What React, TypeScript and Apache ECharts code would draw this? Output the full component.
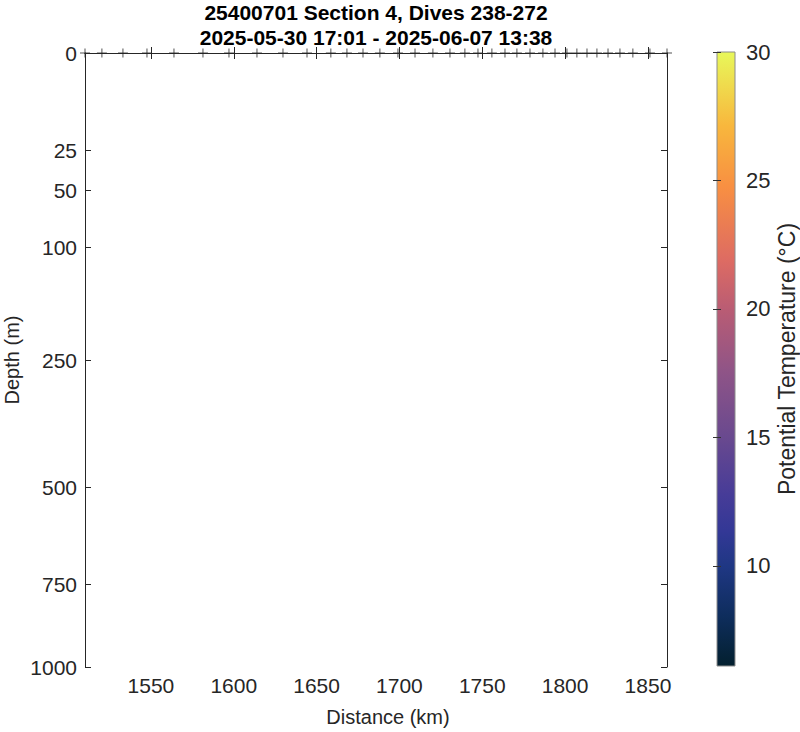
import React, { useEffect, useRef } from "react";
import * as echarts from "echarts";

// ---- data ----
const titleLine1 = "25400701 Section 4, Dives 238-272";
const titleLine2 = "2025-05-30 17:01 - 2025-06-07 13:38";
const diveDistances = [
  1510.2, 1520.4, 1533.1, 1547.6, 1563.9, 1581.4, 1597.1, 1614.0, 1629.7, 1644.2,
  1658.6, 1668.3, 1678.0, 1688.2, 1699.1, 1709.4, 1720.2, 1730.5, 1739.5, 1747.4,
  1755.8, 1763.7, 1770.9, 1778.8, 1786.6, 1793.9, 1801.1, 1807.1, 1813.2, 1819.2,
  1825.9, 1833.1, 1840.9, 1851.2, 1861.5,
];
const distanceTicks = [1550, 1600, 1650, 1700, 1750, 1800, 1850];
const depthTicks = [0, 25, 50, 100, 250, 500, 750, 1000];
const tempTicks = [10, 15, 20, 25, 30];
const distMin = 1510.2;
const distMax = 1861.5;
const depthMax = 1000;
const tempMin = 6.1;
const tempMax = 30;
// cmocean "thermal" approximation: [fraction, colour]
const thermalStops: [number, string][] = [
  [0.0, "#03202f"],
  [0.08, "#0e2d5c"],
  [0.163, "#1f3784"],
  [0.22, "#333896"],
  [0.28, "#473c98"],
  [0.372, "#69498f"],
  [0.48, "#8f5487"],
  [0.58, "#b95c74"],
  [0.66, "#dd6b63"],
  [0.78, "#f88f42"],
  [0.88, "#f8b73d"],
  [1.0, "#e8f85a"],
];

const FONT = "'Liberation Sans', Arial, Helvetica, sans-serif";
const AX = "#262626";

export default function App() {
  const ref = useRef<HTMLDivElement>(null);
  useEffect(() => {
    if (!ref.current) return;
    const chart = echarts.init(ref.current, null, { renderer: "svg" });
    const sq = (v: number) => Math.sqrt(v);
    const depthTickT = depthTicks.map(sq);
    const grad = new echarts.graphic.LinearGradient(
      0, 1, 0, 0,
      thermalStops.map(([o, c]) => ({ offset: o, color: c }))
    );
    const tickLabel = { color: AX, fontSize: 21, fontFamily: FONT };
    const nameStyle = { color: AX, fontSize: 20, fontFamily: FONT };
    chart.setOption({
      animation: false,
      backgroundColor: "#ffffff",
      textStyle: { fontFamily: FONT },
      graphic: [
        {
          type: "text", x: 376, y: 2,
          style: { text: titleLine1, fontSize: 21, fontWeight: "bold", fill: "#000", fontFamily: FONT, textAlign: "center" },
        },
        {
          type: "text", x: 376, y: 27,
          style: { text: titleLine2, fontSize: 21, fontWeight: "bold", fill: "#000", fontFamily: FONT, textAlign: "center" },
        },
      ],
      grid: [
        { left: 85, top: 53, width: 582, height: 614, show: false, containLabel: false, outerBoundsMode: "none" },
        { left: 717, top: 52, width: 18, height: 614, show: false, containLabel: false, outerBoundsMode: "none" },
      ],
      xAxis: [
        {
          type: "value", gridIndex: 0, position: "bottom", min: distMin, max: distMax,
          splitLine: { show: false },
          axisLine: { show: true, lineStyle: { color: AX, width: 1 } },
          axisTick: { show: true, inside: true, length: 6, customValues: distanceTicks, lineStyle: { color: AX } },
          axisLabel: { ...tickLabel, margin: 8, customValues: distanceTicks, formatter: (v: number) => String(Math.round(v)) },
          name: "Distance (km)", nameLocation: "middle", nameGap: 40,
          nameTextStyle: { ...nameStyle, padding: [0, 0, 0, 24] },
          nameMoveOverlap: false,
        },
        {
          type: "value", gridIndex: 0, position: "top", min: distMin, max: distMax,
          splitLine: { show: false },
          axisLine: { show: true, lineStyle: { color: AX, width: 1 } },
          axisTick: { show: true, inside: true, length: 6, customValues: distanceTicks, lineStyle: { color: AX } },
          axisLabel: { show: false },
        },
        {
          type: "value", gridIndex: 1, min: 0, max: 1, show: false,
        },
      ],
      yAxis: [
        {
          type: "value", gridIndex: 0, position: "left", inverse: true, min: 0, max: sq(depthMax),
          splitLine: { show: false },
          axisLine: { show: true, lineStyle: { color: AX, width: 1 } },
          axisTick: { show: true, inside: true, length: 6, customValues: depthTickT, lineStyle: { color: AX } },
          axisLabel: { ...tickLabel, margin: 8, customValues: depthTickT, formatter: (v: number) => String(Math.round(v * v)) },
          name: "Depth (m)", nameLocation: "middle", nameGap: 63, nameRotate: 90, nameTextStyle: nameStyle,
          nameMoveOverlap: false,
        },
        {
          type: "value", gridIndex: 0, position: "right", inverse: true, min: 0, max: sq(depthMax),
          splitLine: { show: false },
          axisLine: { show: true, lineStyle: { color: AX, width: 1 } },
          axisTick: { show: true, inside: true, length: 6, customValues: depthTickT, lineStyle: { color: AX } },
          axisLabel: { show: false },
        },
        {
          type: "value", gridIndex: 1, position: "right", min: tempMin, max: tempMax, z: 10,
          splitLine: { show: false },
          axisLine: { show: false },
          axisTick: { show: true, inside: true, length: 4, customValues: tempTicks, lineStyle: { color: "#333", width: 1 } },
          axisLabel: { ...tickLabel, fontSize: 22, margin: 11, customValues: tempTicks },
          name: "Potential Temperature (°C)", nameLocation: "middle", nameGap: 40, nameRotate: 90,
          nameTextStyle: { ...nameStyle, fontSize: 23 },
        },
        {
          type: "value", gridIndex: 1, position: "left", min: tempMin, max: tempMax, z: 10,
          splitLine: { show: false },
          axisLine: { show: false },
          axisTick: { show: true, inside: true, length: 4, customValues: tempTicks, lineStyle: { color: "#333", width: 1 } },
          axisLabel: { show: false },
        },
      ],
      series: [
        {
          type: "scatter", xAxisIndex: 0, yAxisIndex: 0, clip: false, z: 5,
          symbol: "rect", symbolSize: [1, 9],
          itemStyle: { color: AX },
          data: diveDistances.map((d) => [d, 0]),
        },
        {
          type: "scatter", xAxisIndex: 0, yAxisIndex: 0, clip: false, z: 5,
          symbol: "rect", symbolSize: [10, 1],
          itemStyle: { color: AX },
          data: diveDistances.map((d) => [d, 0]),
        },
        {
          type: "custom", xAxisIndex: 2, yAxisIndex: 2, z: 1, clip: false,
          data: [[0, tempMin]],
          renderItem: (_p: any, api: any) => {
            const a = api.coord([0, tempMin]);
            const b = api.coord([1, tempMax]);
            return {
              type: "rect",
              shape: { x: a[0], y: b[1], width: b[0] - a[0], height: a[1] - b[1] },
              style: { fill: grad, stroke: "#8c8c8c", lineWidth: 1 },
            };
          },
        },
      ],
    });
    return () => chart.dispose();
  }, []);
  return <div ref={ref} style={{ position: "fixed", left: 0, top: 0, width: 800, height: 732 }} />;
}
